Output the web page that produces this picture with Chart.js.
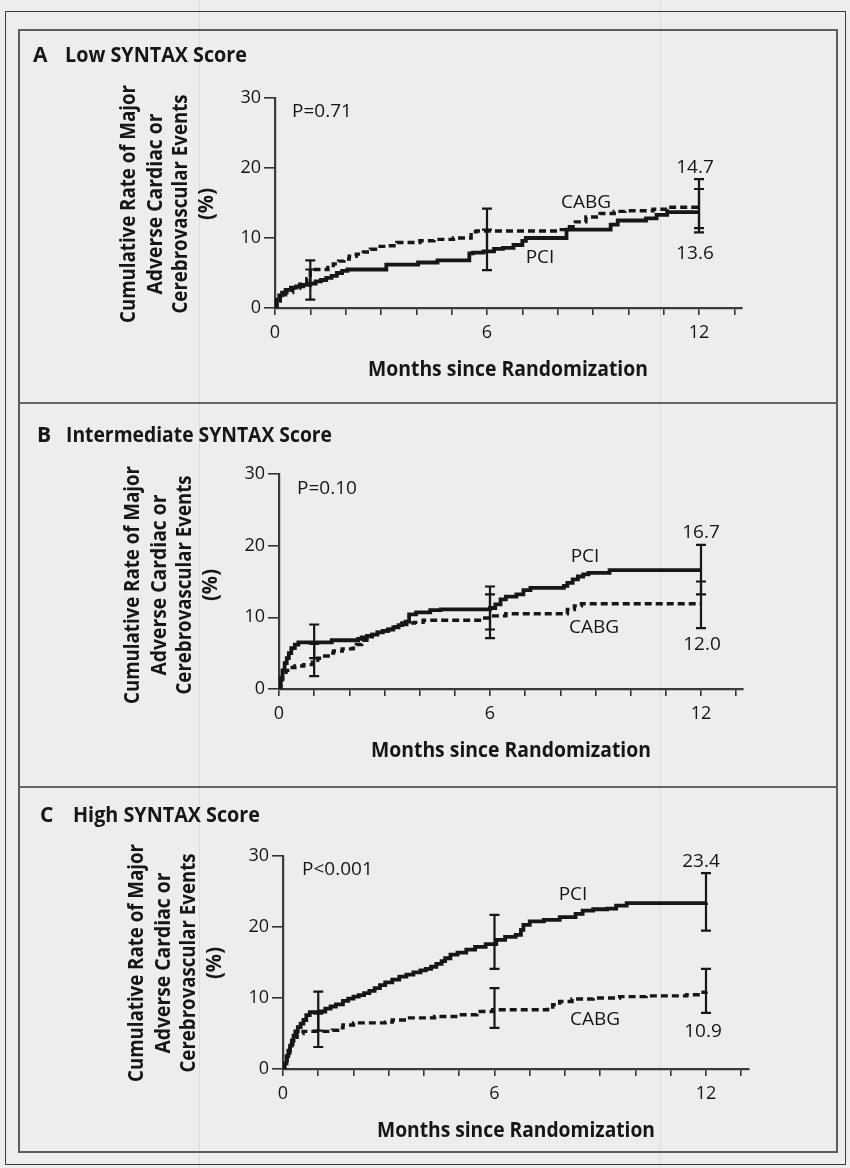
<!DOCTYPE html>
<html>
<head>
<meta charset="utf-8">
<script src="https://cdn.jsdelivr.net/npm/chart.js@4.4.1/dist/chart.umd.min.js"></script>
<style>
  html, body { margin: 0; padding: 0; background: #ededee; }
  #page { position: relative; width: 850px; height: 1168px; overflow: hidden; }
  #page canvas { position: absolute; left: 0; top: 0; }
  .box { position: absolute; box-sizing: border-box; }
  #outer { left: 5px; top: 11px; width: 841px; height: 1154px; border: 1px solid #3a3a3a; }
  #inner { left: 18px; top: 29px; width: 820px; height: 1124px; border: 2px solid #5c5c5c; }
  .sep { left: 18px; width: 820px; height: 2px; background: #666; }
  .scan { top: 0; width: 1px; height: 1168px; background: rgba(0,0,0,0.07); }
</style>
</head>
<body>
<div id="page">
  <div class="box" id="outer"></div>
  <div class="box" id="inner"></div>
  <div class="box sep" style="top:402px"></div>
  <div class="box sep" style="top:786px"></div>
  <div class="box scan" style="left:199px"></div>
  <div class="box scan" style="left:660px"></div>
  <canvas id="chartA" width="850" height="1168"></canvas>
  <canvas id="chartB" width="850" height="1168"></canvas>
  <canvas id="chartC" width="850" height="1168"></canvas>
</div>
<script>
// axis ticks
var xLabelMonths = [0, 6, 12];
var errMonths = [1, 6, 12];

// A - Low SYNTAX score
var lowPciMonths = [0, 0.05, 0.12, 0.2, 0.3, 0.45, 0.6, 0.8, 1.0, 1.15, 1.3, 1.45, 1.6, 1.75, 1.9, 2.05, 3.15, 4.05, 4.6, 5.5, 5.6, 5.9, 6.2, 6.45, 6.75, 7.0, 7.1, 8.25, 9.5, 9.7, 10.5, 10.8, 11.1, 12.0];
var lowPciRate   = [0, 1.2, 1.8, 2.2, 2.6, 2.9, 3.1, 3.3, 3.5, 3.8, 4.0, 4.3, 4.6, 5.0, 5.3, 5.5, 6.2, 6.5, 6.8, 7.8, 7.9, 8.1, 8.45, 8.6, 9.0, 9.6, 10.0, 11.2, 11.9, 12.5, 12.8, 13.3, 13.7, 13.7];
var lowCabgMonths = [0, 0.05, 0.15, 0.3, 0.5, 0.7, 0.9, 1.0, 1.5, 1.65, 1.8, 1.95, 2.1, 2.3, 2.5, 2.7, 2.9, 3.2, 3.45, 4.1, 4.5, 5.05, 5.55, 5.7, 8.0, 8.25, 8.5, 8.8, 9.2, 9.6, 9.9, 10.7, 11.1, 12.0];
var lowCabgRate   = [0, 1.0, 1.6, 2.2, 2.8, 3.4, 4.2, 5.5, 5.8, 6.3, 6.7, 7.0, 7.4, 7.7, 8.0, 8.4, 8.8, 8.9, 9.35, 9.6, 9.8, 10.0, 10.9, 11.0, 11.2, 11.6, 12.3, 13.0, 13.5, 13.8, 13.9, 14.1, 14.4, 14.5];
var lowPciLower  = [1.2, 5.4, 10.8];
var lowPciUpper  = [5.5, 11.2, 17.0];
var lowCabgLower = [3.5, 8.0, 11.4];
var lowCabgUpper = [6.8, 14.2, 18.4];

// B - Intermediate SYNTAX score
var midPciMonths = [0, 0.05, 0.1, 0.16, 0.22, 0.28, 0.35, 0.45, 0.55, 1.5, 2.25, 2.35, 2.5, 2.65, 2.8, 2.95, 3.1, 3.25, 3.4, 3.5, 3.6, 3.7, 3.9, 4.3, 4.6, 6.0, 6.15, 6.3, 6.45, 6.75, 6.95, 7.15, 8.1, 8.2, 8.35, 8.5, 8.65, 8.8, 9.4, 12.0];
var midPciRate   = [0, 1.5, 2.6, 3.6, 4.3, 5.0, 5.7, 6.2, 6.5, 6.8, 7.0, 7.2, 7.4, 7.6, 7.9, 8.1, 8.3, 8.6, 8.9, 9.2, 9.4, 10.4, 10.7, 11.0, 11.1, 11.3, 11.8, 12.5, 12.9, 13.2, 13.8, 14.1, 14.4, 14.8, 15.3, 15.7, 16.0, 16.2, 16.6, 16.6];
var midCabgMonths = [0, 0.05, 0.1, 0.2, 0.3, 0.45, 0.7, 0.95, 1.1, 1.25, 1.4, 1.55, 1.8, 2.1, 2.2, 2.35, 2.5, 2.65, 2.8, 2.95, 3.1, 3.3, 3.5, 3.7, 3.85, 4.1, 5.85, 6.05, 6.45, 8.2, 8.4, 8.6, 12.0];
var midCabgRate   = [0, 1.0, 1.8, 2.6, 3.0, 3.2, 3.4, 4.0, 4.3, 4.6, 5.0, 5.3, 5.6, 5.7, 6.2, 6.8, 7.3, 7.6, 7.9, 8.1, 8.3, 8.7, 9.0, 9.2, 9.3, 9.6, 9.9, 10.2, 10.5, 11.1, 11.6, 11.9, 11.9];
var midPciLower  = [4.3, 8.3, 13.2];
var midPciUpper  = [9.0, 14.3, 20.1];
var midCabgLower = [1.8, 7.1, 8.5];
var midCabgUpper = [6.3, 13.2, 15.0];

// C - High SYNTAX score
var highPciMonths = [0, 0.04, 0.1, 0.15, 0.2, 0.25, 0.3, 0.35, 0.42, 0.5, 0.58, 0.66, 0.76, 1.05, 1.2, 1.35, 1.5, 1.7, 1.85, 2.0, 2.15, 2.3, 2.45, 2.6, 2.75, 2.9, 3.1, 3.3, 3.5, 3.7, 3.9, 4.05, 4.2, 4.35, 4.5, 4.6, 4.75, 4.95, 5.2, 5.45, 5.75, 6.05, 6.3, 6.6, 6.75, 6.82, 7.0, 7.4, 7.85, 8.3, 8.5, 8.8, 9.2, 9.45, 9.75, 12.0];
var highPciRate   = [0, 0.8, 1.8, 2.6, 3.3, 4.0, 4.7, 5.3, 5.9, 6.4, 6.9, 7.6, 8.0, 8.1, 8.5, 8.8, 9.1, 9.6, 9.9, 10.2, 10.4, 10.7, 11.0, 11.4, 11.8, 12.2, 12.6, 13.0, 13.3, 13.6, 13.9, 14.1, 14.4, 14.8, 15.2, 15.6, 16.1, 16.4, 16.8, 17.2, 17.6, 18.2, 18.6, 18.9, 19.6, 20.3, 20.8, 21.0, 21.4, 21.85, 22.3, 22.5, 22.6, 23.0, 23.35, 23.4];
var highCabgMonths = [0, 0.05, 0.12, 0.19, 0.28, 0.4, 0.57, 1.4, 1.55, 1.7, 2.0, 2.9, 3.1, 3.5, 4.3, 5.0, 5.5, 5.95, 7.5, 7.65, 7.85, 8.2, 8.8, 9.55, 10.3, 11.45, 11.85, 12.0];
var highCabgRate   = [0, 0.9, 2.2, 3.2, 4.1, 5.0, 5.3, 5.45, 5.8, 6.2, 6.5, 6.6, 6.9, 7.2, 7.4, 7.65, 8.1, 8.35, 8.4, 9.05, 9.5, 9.85, 10.0, 10.2, 10.3, 10.45, 10.8, 10.9];
var highPciLower  = [5.4, 14.1, 19.5];
var highPciUpper  = [10.9, 21.7, 27.6];
var highCabgLower = [3.1, 5.8, 7.9];
var highCabgUpper = [7.8, 11.4, 14.1];

var ink = '#161616';
var fam = '"Open Sans", "Noto Sans", sans-serif';
var xMax = 13.2;
var AXIS_W = 50, AXIS_H = 40;
var yTitleLines = ['Cumulative Rate of Major', 'Adverse Cardiac or', 'Cerebrovascular Events', '(%)'];
var yTitleWidths = [238, 181, 219, 32];

var panels = [
    { id: 'chartA', letter: 'A', title: 'Low SYNTAX Score', p: 'P=0.71',
      pci: [lowPciMonths, lowPciRate], cabg: [lowCabgMonths, lowCabgRate],
      pciErr: [lowPciLower, lowPciUpper], cabgErr: [lowCabgLower, lowCabgUpper],
      pciEnd: '13.6', cabgEnd: '14.7',
      box: { x0: 275, x12: 699, y0: 308, y30: 98 },
      pos: { letter: [33, 62], title: [65, 62, 182], xTitle: [508, 376, 280], yX: [129, 156, 181, 207], yY: 204,
             p: [292, 112], pciLabel: [540, 258], cabgLabel: [586, 203], pciEnd: [695, 254], cabgEnd: [695, 168] } },
    { id: 'chartB', letter: 'B', title: 'Intermediate SYNTAX Score', p: 'P=0.10',
      pci: [midPciMonths, midPciRate], cabg: [midCabgMonths, midCabgRate],
      pciErr: [midPciLower, midPciUpper], cabgErr: [midCabgLower, midCabgUpper],
      pciEnd: '16.7', cabgEnd: '12.0',
      box: { x0: 279, x12: 701, y0: 689, y30: 474 },
      pos: { letter: [37, 442], title: [66, 442, 266], xTitle: [511, 757, 280], yX: [133, 160, 185, 211], yY: 585,
             p: [297, 489], pciLabel: [585, 557], cabgLabel: [594, 628], pciEnd: [701, 533], cabgEnd: [702, 645] } },
    { id: 'chartC', letter: 'C', title: 'High SYNTAX Score', p: 'P<0.001',
      pci: [highPciMonths, highPciRate], cabg: [highCabgMonths, highCabgRate],
      pciErr: [highPciLower, highPciUpper], cabgErr: [highCabgLower, highCabgUpper],
      pciEnd: '23.4', cabgEnd: '10.9',
      box: { x0: 283, x12: 706, y0: 1069, y30: 856 },
      pos: { letter: [40, 822], title: [73, 822, 187], xTitle: [516, 1137, 278], yX: [137, 164, 189, 215], yY: 963,
             p: [302, 870], pciLabel: [573, 895], cabgLabel: [595, 1020], pciEnd: [701, 862], cabgEnd: [703, 1032] } }
];

function toPoints(xs, ys) {
    var pts = [];
    for (var i = 0; i < xs.length; i++) pts.push({ x: xs[i], y: ys[i] });
    return pts;
}

function fitText(ctx, text, x, y, width, font, align, baseline, rotate) {
    ctx.save();
    ctx.font = font;
    var natural = ctx.measureText(text).width;
    var sx = width ? width / natural : 1;
    ctx.translate(x, y);
    if (rotate) ctx.rotate(-Math.PI / 2);
    ctx.scale(sx, 1);
    ctx.textAlign = align;
    ctx.textBaseline = baseline;
    ctx.fillStyle = ink;
    ctx.fillText(text, 0, 0);
    ctx.restore();
}

function errBars(ctx, chart, lower, upper) {
    var xs = chart.scales.x, ys = chart.scales.y;
    ctx.save();
    ctx.strokeStyle = ink;
    ctx.lineWidth = 2.2;
    for (var i = 0; i < errMonths.length; i++) {
        var px = xs.getPixelForValue(errMonths[i]);
        var lo = ys.getPixelForValue(lower[i]);
        var hi = ys.getPixelForValue(upper[i]);
        ctx.beginPath();
        ctx.moveTo(px, lo); ctx.lineTo(px, hi);
        ctx.moveTo(px - 5, lo); ctx.lineTo(px + 5, lo);
        ctx.moveTo(px - 5, hi); ctx.lineTo(px + 5, hi);
        ctx.stroke();
    }
    ctx.restore();
}

function panelPlugin(p) {
    return {
        id: 'panelText' + p.letter,
        afterDatasetsDraw: function(chart) {
            var ctx = chart.ctx;
            errBars(ctx, chart, p.pciErr[0], p.pciErr[1]);
            errBars(ctx, chart, p.cabgErr[0], p.cabgErr[1]);
        },
        afterDraw: function(chart) {
            var ctx = chart.ctx, q = p.pos;
            var bold = 'bold 21px ' + fam;
            fitText(ctx, p.letter, q.letter[0], q.letter[1], 0, bold, 'left', 'alphabetic');
            fitText(ctx, p.title, q.title[0], q.title[1], q.title[2], bold, 'left', 'alphabetic');
            fitText(ctx, 'Months since Randomization', q.xTitle[0], q.xTitle[1], q.xTitle[2], 'bold 21px ' + fam, 'center', 'alphabetic');
            for (var i = 0; i < yTitleLines.length; i++) {
                fitText(ctx, yTitleLines[i], q.yX[i], q.yY, yTitleWidths[i], 'bold 21px ' + fam, 'center', 'middle', true);
            }
            var reg = '19px ' + fam;
            fitText(ctx, p.p, q.p[0], q.p[1], 0, reg, 'left', 'middle');
            fitText(ctx, 'PCI', q.pciLabel[0], q.pciLabel[1], 0, reg, 'center', 'middle');
            fitText(ctx, 'CABG', q.cabgLabel[0], q.cabgLabel[1], 0, reg, 'center', 'middle');
            fitText(ctx, p.pciEnd, q.pciEnd[0], q.pciEnd[1], 0, reg, 'center', 'middle');
            fitText(ctx, p.cabgEnd, q.cabgEnd[0], q.cabgEnd[1], 0, reg, 'center', 'middle');
        }
    };
}

panels.forEach(function(p) {
    var b = p.box;
    var right = b.x0 + xMax * (b.x12 - b.x0) / 12;
    new Chart(document.getElementById(p.id), {
        type: 'line',
        data: {
            datasets: [{
                label: 'PCI',
                data: toPoints(p.pci[0], p.pci[1]),
                borderColor: ink,
                borderWidth: 3.8,
                stepped: true,
                pointRadius: 0,
                fill: false
            }, {
                label: 'CABG',
                data: toPoints(p.cabg[0], p.cabg[1]),
                borderColor: ink,
                borderWidth: 3.4,
                borderDash: [7, 4],
                stepped: true,
                pointRadius: 0,
                fill: false
            }]
        },
        options: {
            responsive: false,
            animation: false,
            devicePixelRatio: 1,
            layout: {
                padding: { left: b.x0 - AXIS_W, top: b.y30, right: 850 - right, bottom: 1168 - b.y0 - AXIS_H }
            },
            plugins: { legend: { display: false }, tooltip: { enabled: false } },
            scales: {
                x: {
                    type: 'linear', min: 0, max: xMax,
                    afterFit: function(s) { s.height = AXIS_H; },
                    ticks: {
                        stepSize: 1, includeBounds: false, autoSkip: false, maxRotation: 0, padding: 7,
                        font: { family: fam, size: 18 }, color: ink,
                        callback: function(v) { return xLabelMonths.indexOf(v) >= 0 ? String(v) : ''; }
                    },
                    grid: { display: true, drawOnChartArea: false, drawTicks: true, tickLength: 7, color: '#333', lineWidth: 1.6 },
                    border: { display: true, color: '#3a3a3a', width: 2.2 }
                },
                y: {
                    type: 'linear', min: 0, max: 30,
                    afterFit: function(s) { s.width = AXIS_W; },
                    ticks: { stepSize: 10, padding: 3, font: { family: fam, size: 18 }, color: ink },
                    grid: { display: true, drawOnChartArea: false, drawTicks: true, tickLength: 11, color: '#333', lineWidth: 1.6 },
                    border: { display: true, color: '#3a3a3a', width: 2.2 }
                }
            }
        },
        plugins: [panelPlugin(p)]
    });
});
</script>
</body>
</html>
